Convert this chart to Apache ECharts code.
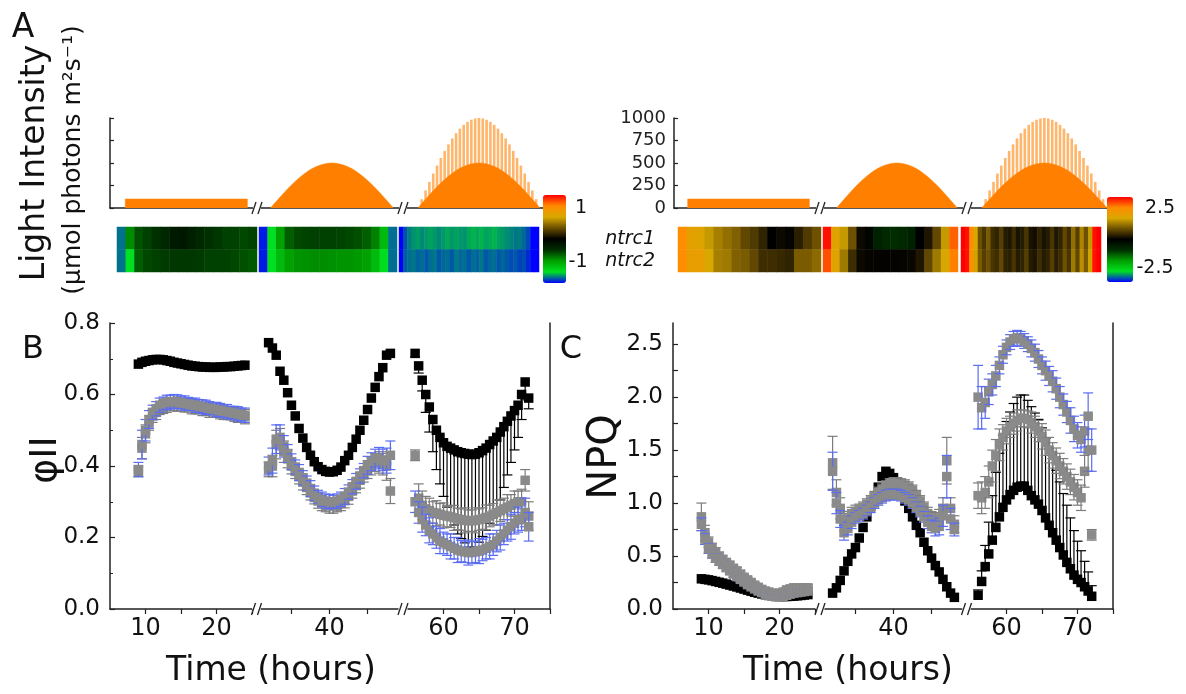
<!DOCTYPE html>
<html><head><meta charset="utf-8">
<script src="https://cdn.jsdelivr.net/npm/echarts@6/dist/echarts.min.js"></script>
<style>html,body{margin:0;padding:0;background:#fff}#c{width:1186px;height:694px}</style>
</head><body><div id="c"></div>
<script>
// ---------- time points (hours) ----------
const t1 = [9,9.5,10,10.5,11,11.5,12,12.5,13,13.5,14,14.5,15,15.5,16,16.5,17,17.5,18,18.5,19,19.5,20,20.5,21,21.5,22,22.5,23,23.5,24];
const t2 = [32,32.5,33,33.5,34,34.5,35,35.5,36,36.5,37,37.5,38,38.5,39,39.5,40,40.5,41,41.5,42,42.5,43,43.5,44,44.5,45,45.5,46,46.5,47,47.5,48];
const t3 = [56,56.5,57,57.5,58,58.5,59,59.5,60,60.5,61,61.5,62,62.5,63,63.5,64,64.5,65,65.5,66,66.5,67,67.5,68,68.5,69,69.5,70,70.5,71,71.5,72];

// ---------- light regime (µmol photons m-2 s-1) ----------
const lightT1 = [8,8,24,24];
const light1 = [0,100,100,0];
const light2 = [0,49,98,145,191,236,278,317,354,386,416,441,462,478,490,498,500,498,490,478,462,441,416,386,354,317,278,236,191,145,98,49,0];
const light3base = [0,49,98,145,191,236,278,317,354,386,416,441,462,478,490,498,500,498,490,478,462,441,416,386,354,317,278,236,191,145,98,49,0];
const light3peak = [0,98,195,290,383,471,556,634,707,773,831,882,924,957,981,995,1000,995,981,957,924,882,831,773,707,634,556,471,383,290,195,98,0];

// ---------- heat map columns ----------
const hmT1 = [9,10,11,12,13,14,15,16,17,18,19,20,21,22,23,24];
const hmT2 = [33,34,35,36,37,38,39,40,41,42,43,44,45,46,47,48];
const hmT3 = t3;
const hmRows = ['ntrc2','ntrc1'];
// left heat map (scale -1..1)
const hmL1_n1 = [-1.44,-0.75,-0.53,-0.47,-0.41,-0.34,-0.22,-0.2,-0.27,-0.34,-0.4,-0.44,-0.47,-0.47,-0.5,-0.47];
const hmL1_n2 = [-1.44,-1.24,-0.58,-0.5,-0.47,-0.45,-0.44,-0.44,-0.44,-0.45,-0.47,-0.47,-0.47,-0.5,-0.53,-0.56];
const hmL2_n1 = [-1.6,-1.24,-0.83,-0.58,-0.5,-0.48,-0.47,-0.47,-0.47,-0.48,-0.5,-0.53,-0.58,-0.71,-1.0,-1.45];
const hmL2_n2 = [-1.6,-1.24,-1.0,-0.83,-0.78,-0.77,-0.76,-0.76,-0.77,-0.78,-0.78,-0.8,-0.83,-1.0,-1.22,-1.45];
const hmL3_n1 = [-1.65,-1.5,-1.42,-1.38,-1.36,-1.4,-1.37,-1.35,-1.37,-1.4,-1.37,-1.34,-1.37,-1.35,-1.37,-1.38,-1.34,-1.32,-1.34,-1.32,-1.35,-1.34,-1.32,-1.35,-1.37,-1.39,-1.41,-1.43,-1.42,-1.46,-1.52,-1.65,-1.65];
const hmL3_n2 = [-1.65,-1.48,-1.45,-1.43,-1.47,-1.45,-1.49,-1.45,-1.43,-1.49,-1.46,-1.45,-1.49,-1.43,-1.46,-1.45,-1.49,-1.45,-1.47,-1.43,-1.49,-1.46,-1.45,-1.49,-1.46,-1.49,-1.51,-1.49,-1.53,-1.51,-1.57,-1.65,-1.65];
// right heat map (scale -2.5..2.5)
const hmR1_n1 = [2.6,2.0,1.9,1.6,1.35,1.2,1.05,0.8,0.65,0.4,0.0,0.1,0.05,0.35,0.65,0.9];
const hmR1_n2 = [2.6,2.1,2.1,1.75,1.35,1.3,1.05,1.0,0.8,0.5,0.5,0.45,0.4,1.0,1.0,1.15];
const hmR2_n1 = [3.4,1.9,1.6,0.9,0.1,-0.1,-0.6,-0.75,-0.8,-0.75,-0.6,0.0,0.25,0.8,1.6,2.9];
const hmR2_n2 = [3.0,1.9,1.3,0.5,0.1,0.05,0.03,0.02,0.03,0.05,0.08,0.25,0.8,1.3,1.75,2.7];
const hmR3_n1 = [3.5,3.4,2.6,1.8,0.9,0.6,1.0,0.5,0.4,0.7,0.3,0.25,0.5,0.2,0.3,0.6,0.2,0.15,0.4,0.2,0.3,0.6,0.25,0.4,0.8,0.5,1.2,0.7,1.4,0.9,1.6,3.4,3.5];
const hmR3_n2 = [3.5,3.4,2.5,1.7,1.0,0.7,0.9,0.6,0.5,0.8,0.4,0.35,0.6,0.3,0.4,0.7,0.3,0.25,0.5,0.3,0.4,0.7,0.35,0.5,0.9,0.6,1.3,0.8,1.5,1.0,1.7,3.4,3.5];

// ---------- panel B : phiII ----------
const phiWT1 = [0.685,0.69,0.693,0.695,0.697,0.698,0.698,0.697,0.695,0.693,0.69,0.688,0.686,0.684,0.682,0.68,0.679,0.678,0.677,0.677,0.676,0.676,0.676,0.677,0.677,0.678,0.678,0.679,0.68,0.681,0.682];
const phiWT2 = [0.745,0.73,0.71,0.665,0.64,0.605,0.57,0.54,0.505,0.478,0.452,0.43,0.412,0.398,0.39,0.385,0.383,0.384,0.388,0.397,0.415,0.43,0.452,0.475,0.5,0.528,0.558,0.59,0.62,0.65,0.675,0.71,0.715];
const phiWT3 = [0.715,0.68,0.64,0.6,0.565,0.53,0.5,0.48,0.465,0.455,0.45,0.445,0.44,0.437,0.435,0.433,0.432,0.433,0.437,0.443,0.45,0.46,0.47,0.48,0.495,0.51,0.525,0.54,0.555,0.57,0.6,0.635,0.59];
const phiWT3errDown = [0.01,0.02,0.03,0.05,0.07,0.09,0.11,0.13,0.15,0.17,0.19,0.21,0.23,0.24,0.25,0.26,0.26,0.26,0.25,0.24,0.23,0.22,0.21,0.2,0.19,0.17,0.15,0.13,0.11,0.09,0.07,0.05,0.03];
const phiN2_1 = [0.385,0.45,0.49,0.52,0.54,0.55,0.56,0.565,0.57,0.572,0.573,0.573,0.572,0.57,0.568,0.566,0.564,0.562,0.56,0.558,0.556,0.555,0.553,0.551,0.55,0.548,0.546,0.544,0.542,0.54,0.538];
const phiN2_2 = [0.39,0.4,0.46,0.47,0.44,0.42,0.4,0.385,0.37,0.355,0.34,0.325,0.312,0.302,0.295,0.29,0.288,0.288,0.29,0.295,0.303,0.315,0.33,0.345,0.36,0.375,0.39,0.4,0.41,0.41,0.405,0.4,0.33];
const phiN2_3 = [0.43,0.31,0.29,0.28,0.275,0.27,0.268,0.265,0.262,0.26,0.258,0.255,0.252,0.25,0.248,0.247,0.247,0.248,0.25,0.253,0.256,0.26,0.265,0.27,0.275,0.28,0.285,0.29,0.295,0.3,0.3,0.36,0.26];
const phiN2err1 = [0.015,0.03,0.025,0.02,0.018,0.02,0.016,0.018,0.02,0.018,0.017,0.02,0.018,0.019,0.017,0.02,0.018,0.016,0.019,0.017,0.02,0.018,0.017,0.019,0.02,0.018,0.017,0.019,0.02,0.018,0.02];
const phiN2err2 = [0.02,0.03,0.04,0.035,0.03,0.025,0.022,0.02,0.02,0.022,0.02,0.02,0.018,0.02,0.02,0.018,0.02,0.02,0.018,0.02,0.02,0.022,0.02,0.02,0.022,0.02,0.025,0.025,0.025,0.03,0.03,0.04,0.035];
const phiN2err3 = [0.015,0.04,0.04,0.035,0.035,0.03,0.035,0.03,0.035,0.03,0.03,0.035,0.03,0.03,0.035,0.03,0.03,0.035,0.03,0.03,0.035,0.03,0.03,0.035,0.03,0.03,0.035,0.03,0.035,0.03,0.035,0.03,0.04];
const phiN1_1 = [0.39,0.46,0.5,0.53,0.55,0.56,0.57,0.575,0.578,0.58,0.58,0.58,0.578,0.576,0.574,0.572,0.57,0.568,0.566,0.564,0.562,0.56,0.558,0.556,0.554,0.552,0.55,0.548,0.546,0.544,0.542];
const phiN1_2 = [0.4,0.415,0.475,0.48,0.455,0.435,0.412,0.397,0.382,0.367,0.352,0.337,0.324,0.314,0.307,0.302,0.3,0.3,0.302,0.307,0.315,0.327,0.342,0.357,0.372,0.387,0.402,0.412,0.422,0.422,0.417,0.415,0.43];
const phiN1_3 = [0.3,0.27,0.25,0.235,0.22,0.21,0.2,0.19,0.185,0.18,0.175,0.17,0.165,0.162,0.16,0.158,0.158,0.16,0.162,0.165,0.17,0.175,0.18,0.19,0.2,0.21,0.22,0.23,0.24,0.25,0.25,0.27,0.23];
const phiN1err1 = [0.02,0.04,0.03,0.025,0.02,0.02,0.02,0.018,0.02,0.018,0.02,0.019,0.018,0.02,0.018,0.017,0.02,0.018,0.019,0.02,0.018,0.017,0.02,0.019,0.018,0.02,0.017,0.019,0.02,0.018,0.02];
const phiN1err2 = [0.025,0.035,0.04,0.035,0.03,0.025,0.022,0.02,0.022,0.02,0.02,0.022,0.02,0.018,0.02,0.02,0.02,0.018,0.02,0.02,0.022,0.02,0.02,0.022,0.02,0.02,0.025,0.025,0.025,0.03,0.03,0.035,0.04];
const phiN1err3 = [0.03,0.03,0.035,0.03,0.035,0.03,0.03,0.035,0.03,0.03,0.035,0.03,0.035,0.03,0.03,0.035,0.03,0.03,0.035,0.03,0.03,0.035,0.03,0.03,0.035,0.03,0.03,0.035,0.03,0.035,0.03,0.04,0.04];

// ---------- panel C : NPQ ----------
const npqWT1 = [0.285,0.28,0.275,0.268,0.26,0.252,0.244,0.235,0.226,0.217,0.208,0.198,0.188,0.178,0.168,0.158,0.15,0.142,0.135,0.128,0.123,0.12,0.118,0.118,0.118,0.12,0.122,0.125,0.128,0.132,0.136];
const npqWT2 = [0.15,0.2,0.27,0.36,0.45,0.52,0.58,0.67,0.77,0.87,0.97,1.06,1.15,1.25,1.3,1.28,1.24,1.2,1.12,1.02,0.95,0.87,0.79,0.72,0.63,0.55,0.48,0.41,0.35,0.28,0.21,0.15,0.11];
const npqWT3 = [0.13,0.26,0.4,0.52,0.65,0.77,0.87,0.96,1.03,1.08,1.12,1.15,1.16,1.16,1.12,1.07,1.03,0.99,0.93,0.86,0.79,0.72,0.65,0.58,0.51,0.44,0.38,0.32,0.28,0.25,0.21,0.17,0.12];
const npqWT3errUp = [0.05,0.1,0.2,0.3,0.42,0.52,0.6,0.68,0.74,0.78,0.82,0.85,0.86,0.86,0.85,0.84,0.82,0.8,0.78,0.75,0.72,0.7,0.66,0.62,0.58,0.54,0.48,0.42,0.36,0.3,0.24,0.18,0.1];
const npqN2_1 = [0.87,0.72,0.63,0.58,0.54,0.5,0.47,0.44,0.415,0.385,0.36,0.33,0.3,0.275,0.25,0.225,0.205,0.185,0.17,0.16,0.15,0.145,0.15,0.16,0.18,0.19,0.2,0.2,0.2,0.2,0.2];
const npqN2_2 = [1.38,1.1,0.95,0.82,0.85,0.9,0.92,0.94,0.96,0.99,1.02,1.06,1.1,1.13,1.16,1.18,1.19,1.19,1.18,1.17,1.15,1.12,1.07,1.02,0.96,0.9,0.86,0.84,0.86,0.95,1.4,0.95,0.8];
const npqN2_3 = [1.07,1.05,1.1,1.2,1.35,1.45,1.55,1.62,1.68,1.72,1.75,1.78,1.8,1.8,1.79,1.76,1.72,1.68,1.63,1.57,1.5,1.45,1.4,1.35,1.3,1.25,1.2,1.15,1.1,1.05,1.3,1.5,0.7];
const npqN2err1 = [0.13,0.07,0.05,0.04,0.04,0.035,0.03,0.03,0.03,0.03,0.03,0.03,0.025,0.025,0.025,0.025,0.02,0.02,0.02,0.02,0.02,0.02,0.02,0.02,0.025,0.025,0.025,0.03,0.03,0.03,0.03];
const npqN2err2 = [0.25,0.12,0.1,0.08,0.07,0.06,0.06,0.05,0.05,0.05,0.05,0.05,0.05,0.05,0.05,0.05,0.05,0.05,0.05,0.05,0.05,0.05,0.05,0.05,0.05,0.06,0.06,0.07,0.08,0.1,0.22,0.1,0.08];
const npqN2err3 = [0.12,0.15,0.15,0.15,0.15,0.15,0.15,0.12,0.12,0.1,0.1,0.1,0.08,0.08,0.08,0.1,0.1,0.1,0.12,0.12,0.12,0.12,0.12,0.12,0.12,0.12,0.12,0.12,0.12,0.12,0.15,0.2,0.05];
const npqN1_1 = [0.8,0.66,0.57,0.52,0.48,0.45,0.42,0.39,0.36,0.33,0.305,0.28,0.255,0.23,0.21,0.19,0.17,0.155,0.14,0.13,0.12,0.115,0.115,0.12,0.13,0.14,0.15,0.155,0.16,0.165,0.17];
const npqN1_2 = [1.3,1.0,0.85,0.72,0.76,0.82,0.86,0.88,0.9,0.93,0.96,1.0,1.03,1.05,1.07,1.08,1.08,1.08,1.07,1.05,1.03,1.0,0.96,0.92,0.87,0.82,0.78,0.76,0.78,0.88,1.25,0.85,0.75];
const npqN1_3 = [2.0,1.9,1.95,2.05,2.12,2.2,2.3,2.4,2.47,2.52,2.55,2.56,2.55,2.53,2.5,2.46,2.42,2.36,2.3,2.25,2.2,2.15,2.08,2.0,1.93,1.86,1.78,1.7,1.64,1.6,1.68,1.82,1.5];
const npqN1err1 = [0.06,0.05,0.045,0.04,0.04,0.035,0.035,0.03,0.03,0.03,0.03,0.03,0.025,0.025,0.025,0.025,0.025,0.02,0.02,0.02,0.02,0.02,0.02,0.02,0.02,0.025,0.025,0.025,0.025,0.03,0.03];
const npqN1err2 = [0.18,0.1,0.08,0.07,0.06,0.06,0.05,0.05,0.05,0.05,0.05,0.05,0.05,0.05,0.05,0.05,0.05,0.05,0.05,0.05,0.05,0.05,0.05,0.05,0.05,0.06,0.06,0.07,0.08,0.1,0.2,0.1,0.06];
const npqN1err3 = [0.3,0.2,0.15,0.12,0.1,0.1,0.08,0.08,0.07,0.07,0.07,0.07,0.07,0.07,0.07,0.08,0.08,0.08,0.08,0.09,0.09,0.1,0.1,0.1,0.1,0.1,0.12,0.12,0.12,0.12,0.15,0.22,0.2];

// axis tick / label values
const xTicks = [[10,15,20,25],[35,40,45],[60,65,70,75]];
const xLabels = [[10,20],[40],[60,70]];
const phiTicksMajor = 0.2;
const npqTicks = [0,0.25,0.5,0.75,1,1.25,1.5,1.75,2,2.25,2.5];
const npqLabels = [0,0.5,1,1.5,2,2.5];

// ================= build chart =================
const FONT = 'DejaVu Sans';
const AX = '#222';
const ORANGE = '#ff8000', ORANGE_L = '#ffb56a';
const GREY = '#8a8a8a', BLUE = '#5a6cf2';
const SCALE = ['#0000ff','#00e020','#00a000','#003000','#000000','#6a4e00','#d8a800','#ff8c00','#ff0000'];
const grid = [], xAxis = [], yAxis = [], series = [], graphic = [];
const lineSt = {color: AX, width: 1.5};
const MS = 9.5; // marker size

function addGrid(g, xa, ya) {
  grid.push(g); const gi = grid.length - 1;
  xa.gridIndex = gi; ya.gridIndex = gi; xAxis.push(xa); yAxis.push(ya); return gi;
}

// ---- Panel A light charts ----
function lightGrid(left, width, min, max, yShow, yLabels) {
  return addGrid({left, top:118, width, height:90},
    {type:'value', min, max, axisLine:{show:true, onZero:false, lineStyle:lineSt}, axisTick:{show:false}, axisLabel:{show:false}, splitLine:{show:false}},
    {type:'value', min:0, max:1000, show: yShow, interval:250,
     axisLine:{show:true, lineStyle:lineSt}, axisTick:{show:true, inside:true, length:4, lineStyle:{color:AX, width:1.2}},
     axisLabel:{show:yLabels, fontFamily:FONT, fontSize:18, color:'#222', margin:8, formatter:v=>String(v)}, splitLine:{show:false}});
}
function lightSeries(g1, g2, g3) {
  series.push({type:'line', xAxisIndex:g1, yAxisIndex:g1, data: lightT1.map((t,i)=>[t, light1[i]]), symbol:'none', lineStyle:{color:ORANGE, width:0.5}, areaStyle:{color:ORANGE, opacity:1}, silent:true});
  series.push({type:'line', xAxisIndex:g2, yAxisIndex:g2, data: t2.map((t,i)=>[t, light2[i]]), symbol:'none', lineStyle:{color:ORANGE, width:0.5}, areaStyle:{color:ORANGE, opacity:1}, silent:true});
  series.push({type:'bar', xAxisIndex:g3, yAxisIndex:g3, data: t3.map((t,i)=>[t, light3peak[i]]), barWidth:2.6, itemStyle:{color:ORANGE_L}, silent:true});
  series.push({type:'line', xAxisIndex:g3, yAxisIndex:g3, data: t3.map((t,i)=>[t, light3base[i]]), symbol:'none', lineStyle:{color:ORANGE, width:0.5}, areaStyle:{color:ORANGE, opacity:1}, silent:true});
}
const aL1 = lightGrid(110, 145, 6, 25, true, false);
const aL2 = lightGrid(259, 142, 30.5, 49, false, false);
const aL3 = lightGrid(405, 138, 54.3, 72.4, false, false);
lightSeries(aL1, aL2, aL3);
const aR1 = lightGrid(674, 143, 6.2, 25, true, true);
const aR2 = lightGrid(823, 141, 30.2, 48.9, false, false);
const aR3 = lightGrid(970, 137, 54.5, 72, false, false);
lightSeries(aR1, aR2, aR3);

// ---- heat maps ----
const hmLeftIdx = [], hmRightIdx = [];
function heatGrid(left, width, cols, rowN1, rowN2, store) {
  const gi = addGrid({left, top:227, width, height:45},
    {type:'category', data: cols.map(String), show:false},
    {type:'category', data: hmRows, show:false});
  const data = [];
  cols.forEach((c,i)=>{ data.push([i, 1, rowN1[i]]); data.push([i, 0, rowN2[i]]); });
  series.push({type:'heatmap', xAxisIndex:gi, yAxisIndex:gi, data, itemStyle:{borderWidth:0}, emphasis:{disabled:true}, silent:true, progressive:0});
  store.push(series.length - 1);
}
heatGrid(117, 140, hmT1, hmL1_n1, hmL1_n2, hmLeftIdx);
heatGrid(259, 138, hmT2, hmL2_n1, hmL2_n2, hmLeftIdx);
heatGrid(399, 140, hmT3, hmL3_n1, hmL3_n2, hmLeftIdx);
heatGrid(678, 143, hmT1, hmR1_n1, hmR1_n2, hmRightIdx);
heatGrid(823, 135, hmT2, hmR2_n1, hmR2_n2, hmRightIdx);
heatGrid(961, 140, hmT3, hmR3_n1, hmR3_n2, hmRightIdx);

// ---- panels B and C ----
function errSeries(gi, times, vals, errLo, errHi, mColor, eColor) {
  const data = times.map((t,i)=>[t, vals[i], errLo ? errLo[i] : 0, errHi ? errHi[i] : 0]);
  series.push({type:'custom', xAxisIndex:gi, yAxisIndex:gi, clip:false, silent:true, data,
    encode:{x:0, y:1},
    renderItem(params, api) {
      const x = api.value(0), y = api.value(1), lo = api.value(2), hi = api.value(3);
      const p = api.coord([x, y]); const ch = []; const cw = 5, s = MS;
      const st = {stroke:eColor, lineWidth:1.2};
      if (hi > 0) { const q = api.coord([x, y + hi]);
        ch.push({type:'line', shape:{x1:p[0], y1:p[1], x2:q[0], y2:q[1]}, style:st});
        ch.push({type:'line', shape:{x1:q[0]-cw, y1:q[1], x2:q[0]+cw, y2:q[1]}, style:st}); }
      if (lo > 0) { const q = api.coord([x, y - lo]);
        ch.push({type:'line', shape:{x1:p[0], y1:p[1], x2:q[0], y2:q[1]}, style:st});
        ch.push({type:'line', shape:{x1:q[0]-cw, y1:q[1], x2:q[0]+cw, y2:q[1]}, style:st}); }
      ch.push({type:'rect', shape:{x:p[0]-s/2, y:p[1]-s/2, width:s, height:s}, style:{fill:mColor}});
      return {type:'group', children:ch};
    }});
}
function dataPanel(lefts, widths, ranges, yCfg) {
  const gis = [];
  for (let k = 0; k < 3; k++) {
    const xa = {type:'value', min:ranges[k][0], max:ranges[k][1],
      axisLine:{show:true, onZero:false, lineStyle:lineSt},
      axisTick:{show:true, inside:false, length:5, customValues:xTicks[k], lineStyle:{color:AX, width:1.2}},
      axisLabel:{show:true, customValues:xLabels[k], fontFamily:FONT, fontSize:24, color:'#111', margin:8},
      splitLine:{show:false}};
    let ya;
    if (k === 0) ya = Object.assign({type:'value', splitLine:{show:false}, minorSplitLine:{show:false},
        axisLine:{show:true, lineStyle:lineSt}}, yCfg);
    else if (k === 1) ya = {type:'value', min:yCfg.min, max:yCfg.max, show:false, splitLine:{show:false}};
    else ya = {type:'value', min:yCfg.min, max:yCfg.max, position:'right', axisLine:{show:true, lineStyle:lineSt}, axisTick:{show:false}, axisLabel:{show:false}, splitLine:{show:false}};
    gis.push(addGrid({left:lefts[k], top:323, width:widths[k], height:286}, xa, ya));
  }
  return gis;
}
const ranges = [[5,25],[31,49],[55,75]];
const gB = dataPanel([110,261,408],[142,137,142], ranges, {min:0, max:0.8, interval:phiTicksMajor,
  axisTick:{show:true, inside:true, length:5, lineStyle:{color:AX, width:1.2}},
  minorTick:{show:true, splitNumber:2, length:3, lineStyle:{color:AX, width:1}},
  axisLabel:{fontFamily:FONT, fontSize:23, color:'#111', margin:10, formatter:v=>v.toFixed(1)}});
const gC = dataPanel([673,825,971],[142,137,142], ranges, {min:0, max:2.7,
  axisTick:{show:true, inside:true, length:5, customValues:npqTicks, lineStyle:{color:AX, width:1.2}},
  axisLabel:{fontFamily:FONT, fontSize:23, color:'#111', margin:10, customValues:npqLabels, formatter:v=>v.toFixed(1)}});

const T = [t1, t2, t3];
// Panel B
errSeries(gB[0], t1, phiWT1, null, null, '#000', '#000');
errSeries(gB[1], t2, phiWT2, null, null, '#000', '#000');
errSeries(gB[2], t3, phiWT3, phiWT3errDown, null, '#000', '#000');
[[phiN2_1,phiN2err1],[phiN2_2,phiN2err2],[phiN2_3,phiN2err3]].forEach((d,k)=>errSeries(gB[k], T[k], d[0], d[1], d[1], GREY, '#7c7c7c'));
[[phiN1_1,phiN1err1],[phiN1_2,phiN1err2],[phiN1_3,phiN1err3]].forEach((d,k)=>errSeries(gB[k], T[k], d[0], d[1], d[1], GREY, BLUE));
// Panel C
errSeries(gC[0], t1, npqWT1, null, null, '#000', '#000');
errSeries(gC[1], t2, npqWT2, null, null, '#000', '#000');
errSeries(gC[2], t3, npqWT3, null, npqWT3errUp, '#000', '#000');
[[npqN2_1,npqN2err1],[npqN2_2,npqN2err2],[npqN2_3,npqN2err3]].forEach((d,k)=>errSeries(gC[k], T[k], d[0], d[1], d[1], GREY, '#7c7c7c'));
[[npqN1_1,npqN1err1],[npqN1_2,npqN1err2],[npqN1_3,npqN1err3]].forEach((d,k)=>errSeries(gC[k], T[k], d[0], d[1], d[1], GREY, BLUE));

// ---- decorations ----
function brk(x, y) {
  graphic.push({type:'rect', shape:{x:x-4, y:y-3, width:8, height:6}, style:{fill:'#fff'}, z:90});
  graphic.push({type:'line', shape:{x1:x-5, y1:y+6, x2:x-1, y2:y-6}, style:{stroke:AX, lineWidth:1.3}, z:91});
  graphic.push({type:'line', shape:{x1:x+1, y1:y+6, x2:x+5, y2:y-6}, style:{stroke:AX, lineWidth:1.3}, z:91});
}
[[257,208],[403,208],[820,208],[967,208],[256.5,609],[403,609],[820,609],[966.5,609]].forEach(b=>brk(b[0], b[1]));
function txt(x, y, text, size, o) {
  o = o || {};
  graphic.push({type:'text', x, y, rotation:o.rot||0, z:100,
    style:{text, fontFamily:FONT, fontSize:size, fill:'#111', align:o.align||'center', verticalAlign:'middle', fontStyle:o.italic?'italic':'normal'}});
}
txt(23, 28, 'A', 33);
txt(35, 163, 'Light Intensity', 33, {rot:Math.PI/2});
txt(73, 160, '(µmol photons m²s⁻¹)', 25, {rot:Math.PI/2});
txt(655, 239, 'ntrc1', 19, {align:'right', italic:true});
txt(655, 261, 'ntrc2', 19, {align:'right', italic:true});
txt(581, 208, '1', 19);
txt(578, 262, '-1', 19);
txt(1160, 208, '2.5', 19);
txt(1155, 268, '-2.5', 19);
txt(33, 350, 'B', 32);
txt(571, 350, 'C', 32);
txt(46, 460, 'φII', 38, {rot:Math.PI/2});
txt(606, 457, 'NPQ', 40, {rot:Math.PI/2});
txt(271, 671, 'Time (hours)', 33);
txt(848, 671, 'Time (hours)', 33);

const chart = echarts.init(document.getElementById('c'), null, {renderer:'canvas'});
chart.setOption({
  animation:false,
  backgroundColor:'#fff',
  textStyle:{fontFamily:FONT},
  grid, xAxis, yAxis, series, graphic,
  visualMap:[
    {type:'continuous', seriesIndex:hmLeftIdx, min:-1.65, max:1.65, inRange:{color:SCALE}, calculable:false, orient:'vertical',
     left:543, top:195, itemWidth:23, itemHeight:88, padding:0, text:null, hoverLink:false},
    {type:'continuous', seriesIndex:hmRightIdx, min:-3.5, max:3.5, inRange:{color:SCALE}, calculable:false, orient:'vertical',
     left:1107, top:197, itemWidth:26, itemHeight:85, padding:0, text:null, hoverLink:false}
  ]
});
</script></body></html>
